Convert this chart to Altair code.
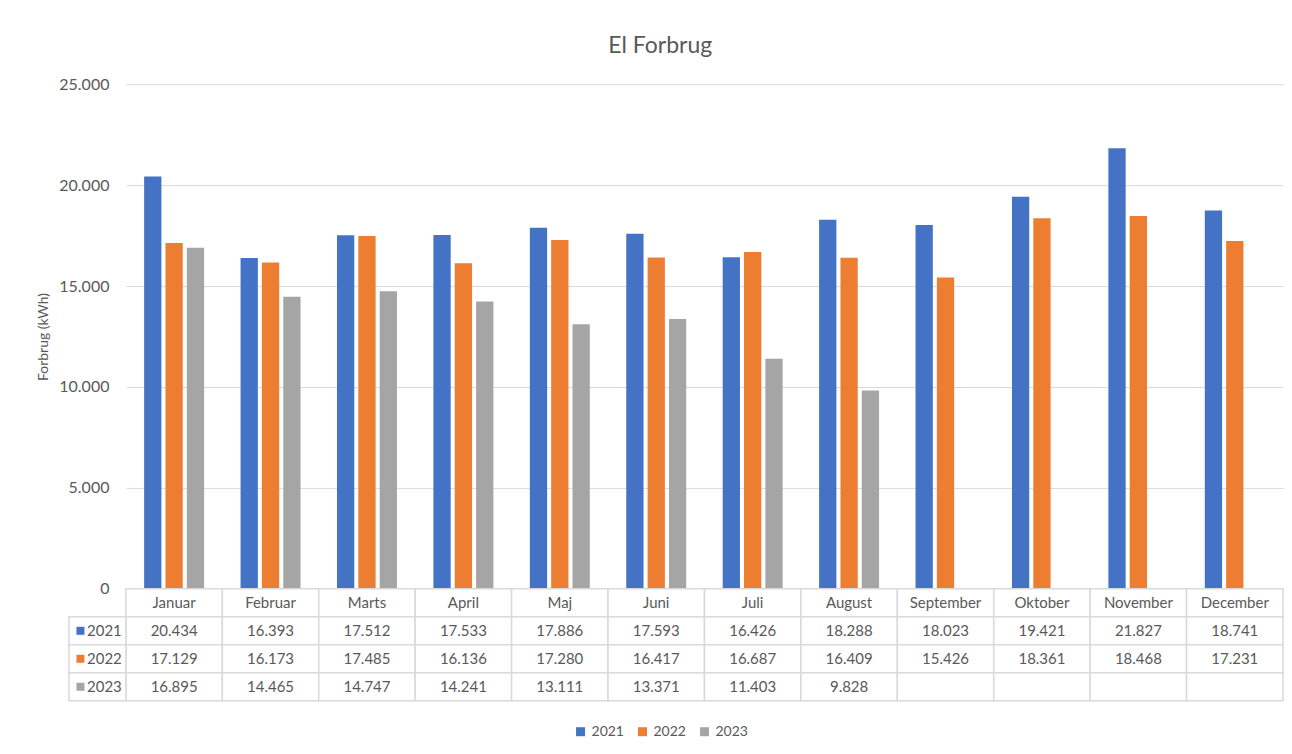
import altair as alt
import pandas as pd

months = ["Januar", "Februar", "Marts", "April", "Maj", "Juni", "Juli",
          "August", "September", "Oktober", "November", "December"]
years = ["2021", "2022", "2023"]
v2021 = [20434, 16393, 17512, 17533, 17886, 17593, 16426, 18288, 18023, 19421, 21827, 18741]
v2022 = [17129, 16173, 17485, 16136, 17280, 16417, 16687, 16409, 15426, 18361, 18468, 17231]
v2023 = [16895, 14465, 14747, 14241, 13111, 13371, 11403, 9828]
colors = ["#4472C4", "#ED7D31", "#A5A5A5"]
y_ticks = [0, 5000, 10000, 15000, 20000, 25000]

FONT = "Lato"
TXT = "#595959"
GRID = "#d9d9d9"

series = {"2021": v2021, "2022": v2022, "2023": v2023}


def fmt(v):
    return f"{v:,}".replace(",", ".")


bar_rows = []
for y, vals in series.items():
    for m, v in zip(months, vals):
        bar_rows.append({"month": m, "year": y, "value": v})
df_bars = pd.DataFrame(bar_rows)

row_keys = ["hdr"] + years
table_rows = []
for i, m in enumerate(months):
    table_rows.append({"month": m, "row": "hdr", "label": m})
    for y, vals in series.items():
        table_rows.append({"month": m, "row": y, "label": fmt(vals[i]) if i < len(vals) else ""})
df_table = pd.DataFrame(table_rows)

df_lbl = pd.DataFrame({"col": ["lbl"] * 3, "row": years, "hex": colors})

color_scale = alt.Scale(domain=years, range=colors)

top = alt.Chart(df_bars).mark_bar().encode(
    x=alt.X("month:N", sort=months, axis=None,
            scale=alt.Scale(paddingInner=0.378, paddingOuter=0.189)),
    xOffset=alt.XOffset("year:N", sort=years, scale=alt.Scale(paddingInner=0.19)),
    y=alt.Y("value:Q", scale=alt.Scale(domain=[0, 25000]),
            axis=alt.Axis(values=y_ticks, title="Forbrug (kWh)",
                          labelExpr="replace(format(datum.value, ','), ',', '.')",
                          grid=True, gridColor=GRID, domain=False, ticks=False,
                          labelPadding=17, labelFontSize=16, labelColor=TXT, labelFont=FONT,
                          titleFont=FONT, titleFontSize=14, titleColor=TXT,
                          titleFontWeight="normal", titlePadding=8)),
    color=alt.Color("year:N", scale=color_scale,
                    legend=alt.Legend(orient="none", direction="horizontal", title=None,
                                      legendX=448, legendY=641,
                                      symbolType="square", symbolSize=81,
                                      symbolStrokeWidth=0,
                                      labelFontSize=14, labelColor=TXT, labelFont=FONT,
                                      columnPadding=11)),
).properties(width=1158, height=505)

xm = alt.X("month:N", sort=months, axis=None,
           scale=alt.Scale(paddingInner=0, paddingOuter=0))
yr = alt.Y("row:N", axis=None,
           scale=alt.Scale(domain=row_keys, paddingInner=0, paddingOuter=0))
xl = alt.X("col:N", axis=None, scale=alt.Scale(domain=["lbl"], range=[-57, 0]))

cells = alt.Chart(df_table).mark_rect(fill="white", stroke=GRID, strokeWidth=1.5).encode(x=xm, y=yr)
texts = alt.Chart(df_table).mark_text(font=FONT, fontSize=15, color=TXT).encode(
    x=xm, y=yr, text="label:N")
lcells = alt.Chart(df_lbl).mark_rect(fill="white", stroke=GRID, strokeWidth=1.5).encode(x=xl, y=yr)
lsq = alt.Chart(df_lbl).mark_square(size=64, xOffset=-17, opacity=1).encode(
    x=xl, y=yr, color=alt.Color("hex:N", scale=None))
ltxt = alt.Chart(df_lbl).mark_text(font=FONT, fontSize=15, color=TXT, dx=7).encode(
    x=xl, y=yr, text="row:N")

bottom = alt.layer(cells, texts, lcells, lsq, ltxt).resolve_scale(x="independent").properties(
    width=1158, height=112)

chart = alt.vconcat(top, bottom, spacing=0, bounds="flush").properties(
    title=alt.TitleParams("El Forbrug", font=FONT, fontSize=23, color=TXT,
                          fontWeight="normal", anchor="middle", offset=18),
    padding={"left": 28, "top": 27, "right": 0, "bottom": 0},
).configure_view(strokeWidth=0)

chart.save("out.html", embed_options={"renderer": "svg", "actions": False})
